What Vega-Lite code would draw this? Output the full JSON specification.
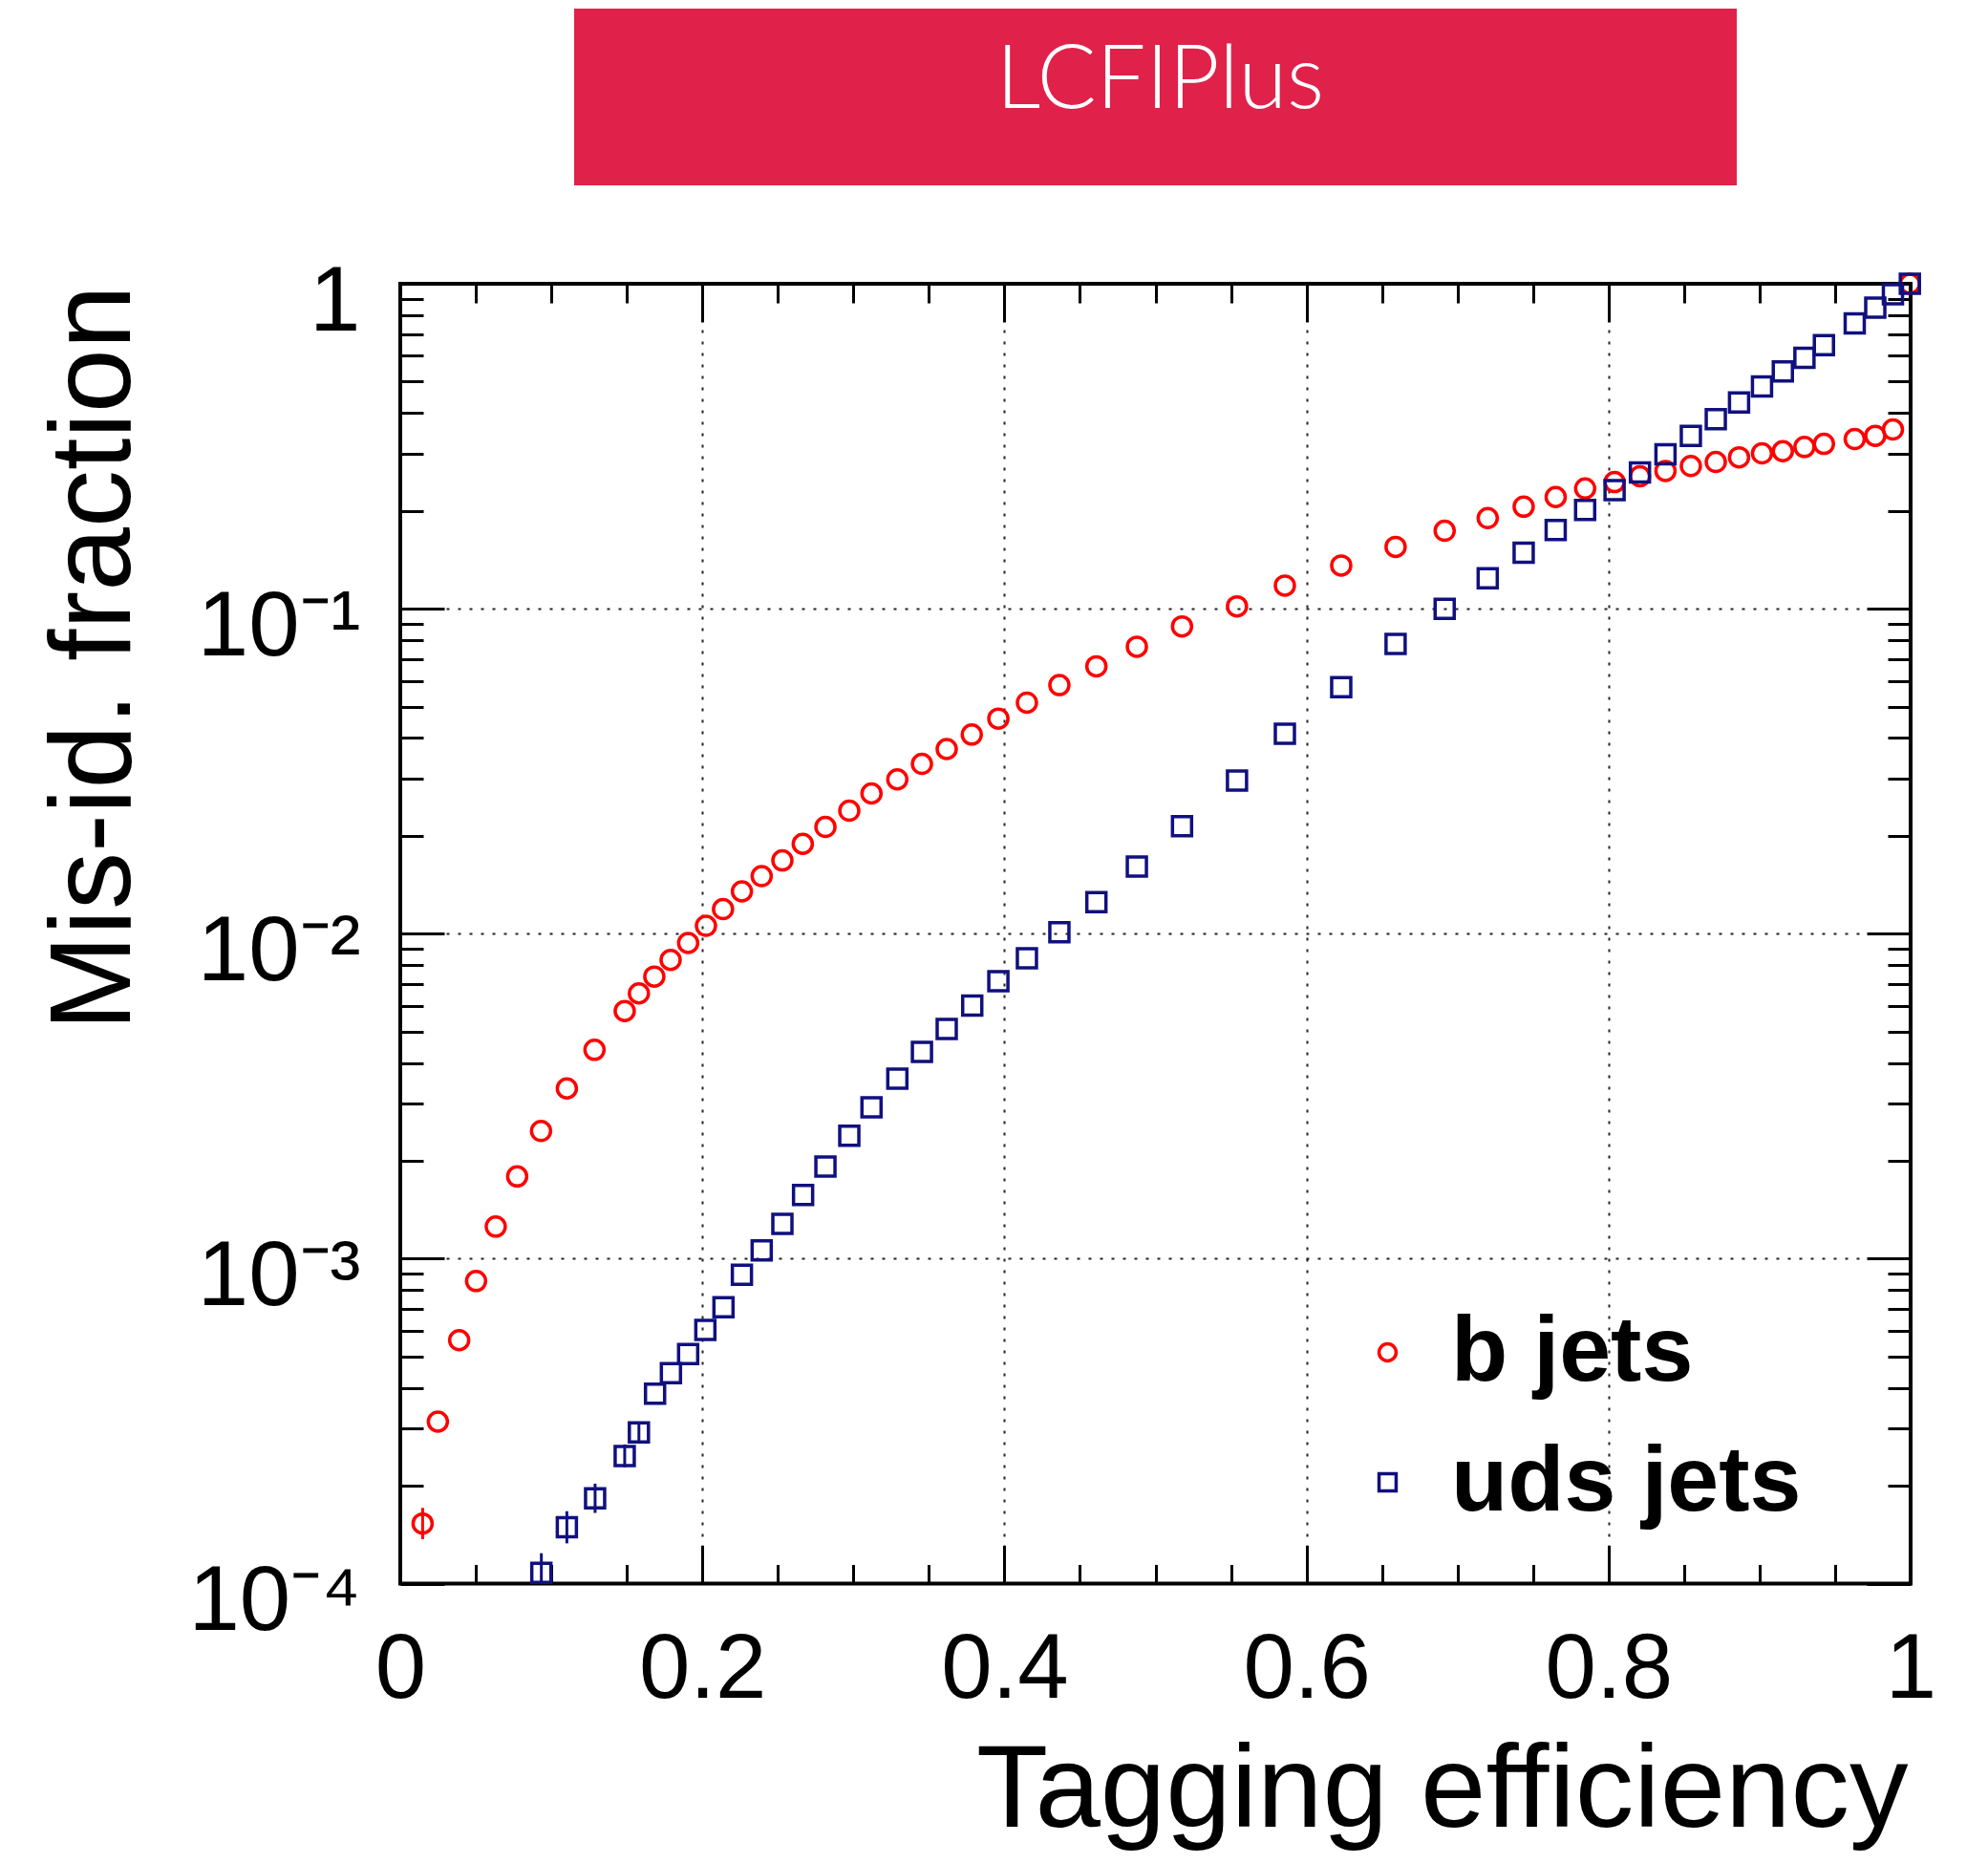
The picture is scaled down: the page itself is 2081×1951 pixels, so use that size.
{
  "$schema": "https://vega.github.io/schema/vega-lite/v6.json",
  "padding": {"left": 37, "top": 9, "right": 5, "bottom": 5},
  "background": "white",
  "config": {
    "view": {"stroke": "black", "strokeWidth": 4},
    "axis": {"domain": false},
    "font": "Liberation Sans"
  },
  "spacing": 103,
  "bounds": "flush",
  "center": true,
  "vconcat": [
    {"width": 1217, "height": 185, "view": {"stroke": null, "fill": "#E02149"},
     "data": {"values": [{"label": "LCFIPlus"}]},
     "mark": {"type": "text", "font": "Lato", "fontWeight": 300, "fontSize": 92, "color": "white", "fill": "white", "baseline": "alphabetic", "dy": 11.5, "dx": 5},
     "encoding": {"text": {"field": "label"}}},
    {
      "width": 1581,
      "height": 1360.5,
      "data": {"values": [
        {"series": "b jets", "eff": 0.0148, "misid": 0.000153, "lo": 0.000137, "hi": 0.000171},
        {"series": "b jets", "eff": 0.0249, "misid": 0.000315},
        {"series": "b jets", "eff": 0.039, "misid": 0.000561},
        {"series": "b jets", "eff": 0.0502, "misid": 0.000853},
        {"series": "b jets", "eff": 0.0632, "misid": 0.001255},
        {"series": "b jets", "eff": 0.0774, "misid": 0.00179},
        {"series": "b jets", "eff": 0.0932, "misid": 0.00247},
        {"series": "b jets", "eff": 0.1103, "misid": 0.00334},
        {"series": "b jets", "eff": 0.1286, "misid": 0.00439},
        {"series": "b jets", "eff": 0.1486, "misid": 0.00578},
        {"series": "b jets", "eff": 0.158, "misid": 0.00655},
        {"series": "b jets", "eff": 0.1682, "misid": 0.00738},
        {"series": "b jets", "eff": 0.179, "misid": 0.0083},
        {"series": "b jets", "eff": 0.1906, "misid": 0.00936},
        {"series": "b jets", "eff": 0.2024, "misid": 0.01057},
        {"series": "b jets", "eff": 0.2137, "misid": 0.0119},
        {"series": "b jets", "eff": 0.2262, "misid": 0.01349},
        {"series": "b jets", "eff": 0.2393, "misid": 0.01503},
        {"series": "b jets", "eff": 0.253, "misid": 0.0168},
        {"series": "b jets", "eff": 0.2665, "misid": 0.0189},
        {"series": "b jets", "eff": 0.2815, "misid": 0.0213},
        {"series": "b jets", "eff": 0.2973, "misid": 0.0239},
        {"series": "b jets", "eff": 0.312, "misid": 0.027},
        {"series": "b jets", "eff": 0.3291, "misid": 0.02985},
        {"series": "b jets", "eff": 0.3454, "misid": 0.0333},
        {"series": "b jets", "eff": 0.3618, "misid": 0.037},
        {"series": "b jets", "eff": 0.3784, "misid": 0.041},
        {"series": "b jets", "eff": 0.396, "misid": 0.0459},
        {"series": "b jets", "eff": 0.4149, "misid": 0.0514},
        {"series": "b jets", "eff": 0.4364, "misid": 0.0582},
        {"series": "b jets", "eff": 0.4609, "misid": 0.0665},
        {"series": "b jets", "eff": 0.4877, "misid": 0.0764},
        {"series": "b jets", "eff": 0.5176, "misid": 0.0882},
        {"series": "b jets", "eff": 0.554, "misid": 0.1017},
        {"series": "b jets", "eff": 0.5857, "misid": 0.1178},
        {"series": "b jets", "eff": 0.623, "misid": 0.1358},
        {"series": "b jets", "eff": 0.659, "misid": 0.155},
        {"series": "b jets", "eff": 0.6915, "misid": 0.1737},
        {"series": "b jets", "eff": 0.72, "misid": 0.19},
        {"series": "b jets", "eff": 0.7438, "misid": 0.206},
        {"series": "b jets", "eff": 0.765, "misid": 0.2206},
        {"series": "b jets", "eff": 0.7845, "misid": 0.2344},
        {"series": "b jets", "eff": 0.804, "misid": 0.2453},
        {"series": "b jets", "eff": 0.8208, "misid": 0.2556},
        {"series": "b jets", "eff": 0.8377, "misid": 0.2655},
        {"series": "b jets", "eff": 0.8545, "misid": 0.2748},
        {"series": "b jets", "eff": 0.871, "misid": 0.2828},
        {"series": "b jets", "eff": 0.8864, "misid": 0.2924},
        {"series": "b jets", "eff": 0.9016, "misid": 0.3006},
        {"series": "b jets", "eff": 0.9154, "misid": 0.3053},
        {"series": "b jets", "eff": 0.9297, "misid": 0.3145},
        {"series": "b jets", "eff": 0.9426, "misid": 0.3215},
        {"series": "b jets", "eff": 0.963, "misid": 0.3327},
        {"series": "b jets", "eff": 0.9766, "misid": 0.3404},
        {"series": "b jets", "eff": 0.9883, "misid": 0.356},
        {"series": "b jets", "eff": 0.9995, "misid": 1.0},
        {"series": "uds jets", "eff": 0.0934, "misid": 0.000108, "lo": 0.0001, "hi": 0.000124},
        {"series": "uds jets", "eff": 0.1103, "misid": 0.000149, "lo": 0.000133, "hi": 0.000167},
        {"series": "uds jets", "eff": 0.129, "misid": 0.000183, "lo": 0.000165, "hi": 0.000203},
        {"series": "uds jets", "eff": 0.1486, "misid": 0.000247, "lo": 0.000228, "hi": 0.000268},
        {"series": "uds jets", "eff": 0.158, "misid": 0.000292, "lo": 0.000271, "hi": 0.000314},
        {"series": "uds jets", "eff": 0.1687, "misid": 0.000384},
        {"series": "uds jets", "eff": 0.1792, "misid": 0.000444},
        {"series": "uds jets", "eff": 0.1906, "misid": 0.000509},
        {"series": "uds jets", "eff": 0.202, "misid": 0.000603},
        {"series": "uds jets", "eff": 0.214, "misid": 0.000709},
        {"series": "uds jets", "eff": 0.2262, "misid": 0.000892},
        {"series": "uds jets", "eff": 0.2393, "misid": 0.00106},
        {"series": "uds jets", "eff": 0.253, "misid": 0.00128},
        {"series": "uds jets", "eff": 0.2667, "misid": 0.00157},
        {"series": "uds jets", "eff": 0.2815, "misid": 0.00192},
        {"series": "uds jets", "eff": 0.2973, "misid": 0.00239},
        {"series": "uds jets", "eff": 0.312, "misid": 0.00292},
        {"series": "uds jets", "eff": 0.3291, "misid": 0.00358},
        {"series": "uds jets", "eff": 0.3454, "misid": 0.00433},
        {"series": "uds jets", "eff": 0.3618, "misid": 0.00509},
        {"series": "uds jets", "eff": 0.3787, "misid": 0.00601},
        {"series": "uds jets", "eff": 0.396, "misid": 0.00714},
        {"series": "uds jets", "eff": 0.4149, "misid": 0.0084},
        {"series": "uds jets", "eff": 0.4364, "misid": 0.0101},
        {"series": "uds jets", "eff": 0.4609, "misid": 0.0125},
        {"series": "uds jets", "eff": 0.4877, "misid": 0.0161},
        {"series": "uds jets", "eff": 0.5176, "misid": 0.0214},
        {"series": "uds jets", "eff": 0.554, "misid": 0.0296},
        {"series": "uds jets", "eff": 0.5857, "misid": 0.0412},
        {"series": "uds jets", "eff": 0.623, "misid": 0.0574},
        {"series": "uds jets", "eff": 0.659, "misid": 0.0779},
        {"series": "uds jets", "eff": 0.6915, "misid": 0.0999},
        {"series": "uds jets", "eff": 0.72, "misid": 0.124},
        {"series": "uds jets", "eff": 0.7438, "misid": 0.1486},
        {"series": "uds jets", "eff": 0.765, "misid": 0.1748},
        {"series": "uds jets", "eff": 0.7845, "misid": 0.2015},
        {"series": "uds jets", "eff": 0.804, "misid": 0.2318},
        {"series": "uds jets", "eff": 0.8208, "misid": 0.2624},
        {"series": "uds jets", "eff": 0.8377, "misid": 0.2985},
        {"series": "uds jets", "eff": 0.8545, "misid": 0.34},
        {"series": "uds jets", "eff": 0.871, "misid": 0.3828},
        {"series": "uds jets", "eff": 0.8864, "misid": 0.431},
        {"series": "uds jets", "eff": 0.9016, "misid": 0.483},
        {"series": "uds jets", "eff": 0.9154, "misid": 0.537},
        {"series": "uds jets", "eff": 0.9297, "misid": 0.592},
        {"series": "uds jets", "eff": 0.9426, "misid": 0.647},
        {"series": "uds jets", "eff": 0.963, "misid": 0.755},
        {"series": "uds jets", "eff": 0.9766, "misid": 0.845},
        {"series": "uds jets", "eff": 0.9883, "misid": 0.929},
        {"series": "uds jets", "eff": 0.9995, "misid": 1.0}
      ]},
      "resolve": {"axis": {"x": "independent", "y": "independent"}},
      "layer": [
        {
          "transform": [{"filter": "isValid(datum.lo) && datum.series == 'b jets'"}],
          "mark": {"type": "rule", "strokeWidth": 3, "color": "#ff0000"},
          "encoding": {
            "x": {"field": "eff", "type": "quantitative",
                  "scale": {"domain": [0, 1], "nice": false, "zero": false},
                  "axis": {"orient": "top", "title": null, "labels": false, "grid": false,
                           "values": [0,0.05,0.1,0.15,0.2,0.25,0.3,0.35,0.4,0.45,0.5,0.55,0.6,0.65,0.7,0.75,0.8,0.85,0.9,0.95,1],
                           "tickColor": "black", "tickWidth": 3,
                           "tickSize": {"condition": {"test": "datum.value == 0 || datum.value == 0.2 || datum.value == 0.4 || datum.value == 0.6 || datum.value == 0.8 || datum.value == 1", "value": -40}, "value": -20}}},
            "y": {"field": "lo", "type": "quantitative",
                  "scale": {"type": "log", "domain": [0.0001, 1], "nice": false},
                  "axis": {"orient": "right", "title": null, "labels": false, "grid": false,
                           "values": [0.0001,0.0002,0.0003,0.0004,0.0005,0.0006,0.0007,0.0008,0.0009,0.001,0.002,0.003,0.004,0.005,0.006,0.007,0.008,0.009,0.01,0.02,0.03,0.04,0.05,0.06,0.07,0.08,0.09,0.1,0.2,0.3,0.4,0.5,0.6,0.7,0.8,0.9,1],
                           "tickColor": "black", "tickWidth": 3,
                           "tickSize": {"condition": {"test": "datum.value == 1 || datum.value == 0.1 || datum.value == 0.01 || datum.value == 0.001 || datum.value == 0.0001", "value": -46}, "value": -24}}},
            "y2": {"field": "hi"}
          }
        },
        {
          "transform": [{"filter": "isValid(datum.lo) && datum.series == 'uds jets'"}],
          "mark": {"type": "rule", "strokeWidth": 3, "color": "#10107f"},
          "encoding": {
            "x": {"field": "eff", "type": "quantitative", "axis": null},
            "y": {"field": "lo", "type": "quantitative", "axis": null},
            "y2": {"field": "hi"}
          }
        },
        {
          "mark": {"type": "point", "filled": false, "strokeWidth": 3.5, "size": 400, "opacity": 1},
          "encoding": {
            "x": {"field": "eff", "type": "quantitative",
                  "scale": {"domain": [0, 1], "nice": false, "zero": false},
                  "axis": {"orient": "bottom",
                           "values": [0,0.05,0.1,0.15,0.2,0.25,0.3,0.35,0.4,0.45,0.5,0.55,0.6,0.65,0.7,0.75,0.8,0.85,0.9,0.95,1],
                           "labelExpr": "(datum.value == 0 || datum.value == 0.2 || datum.value == 0.4 || datum.value == 0.6 || datum.value == 0.8 || datum.value == 1) ? '' + datum.value : ''",
                           "labelFontSize": 96, "labelColor": "black", "labelFont": "Liberation Sans", "labelLimit": 0,
                           "labelBaseline": "alphabetic", "labelPadding": 158.5, "labelFlush": false, "labelOverlap": false, "labelBound": false,
                           "tickColor": "black", "tickWidth": 3,
                           "tickSize": {"condition": {"test": "datum.value == 0 || datum.value == 0.2 || datum.value == 0.4 || datum.value == 0.6 || datum.value == 0.8 || datum.value == 1", "value": -40}, "value": -20},
                           "grid": true, "gridDash": [3, 9], "gridColor": "#222222", "gridWidth": 2,
                           "gridOpacity": {"condition": {"test": "datum.value == 0.2 || datum.value == 0.4 || datum.value == 0.6 || datum.value == 0.8", "value": 1}, "value": 0},
                           "title": "Tagging efficiency", "titleFontSize": 123, "titleFont": "Liberation Sans", "titleFontWeight": "normal", "titleColor": "black", "titleLimit": 0,
                           "titleX": 1578, "titleY": 253.5, "titleAlign": "right", "titleBaseline": "alphabetic"}},
            "y": {"field": "misid", "type": "quantitative",
                  "scale": {"type": "log", "domain": [0.0001, 1], "nice": false},
                  "axis": {"orient": "left",
                           "values": [0.0001,0.0002,0.0003,0.0004,0.0005,0.0006,0.0007,0.0008,0.0009,0.001,0.002,0.003,0.004,0.005,0.006,0.007,0.008,0.009,0.01,0.02,0.03,0.04,0.05,0.06,0.07,0.08,0.09,0.1,0.2,0.3,0.4,0.5,0.6,0.7,0.8,0.9,1],
                           "labelExpr": "datum.value == 1 ? '1' : datum.value == 0.1 ? '10\u207b\u00b9' : datum.value == 0.01 ? '10\u207b\u00b2' : datum.value == 0.001 ? '10\u207b\u00b3' : datum.value == 0.0001 ? '10\u207b\u2074' : ''",
                           "labelFontSize": 96, "labelColor": "black", "labelFont": "Liberation Sans", "labelLimit": 0,
                           "labelAlign": "right", "labelBaseline": "alphabetic", "labelOffset": 48, "labelPadding": 88, "labelOverlap": false, "labelBound": false, "labelFlush": false,
                           "tickColor": "black", "tickWidth": 3,
                           "tickSize": {"condition": {"test": "datum.value == 1 || datum.value == 0.1 || datum.value == 0.01 || datum.value == 0.001 || datum.value == 0.0001", "value": -46}, "value": -24},
                           "grid": true, "gridDash": [3, 9], "gridColor": "#222222", "gridWidth": 2,
                           "gridOpacity": {"condition": {"test": "datum.value == 0.1 || datum.value == 0.01 || datum.value == 0.001", "value": 1}, "value": 0},
                           "title": "Mis-id. fraction", "titleFontSize": 120, "titleFont": "Liberation Sans", "titleFontWeight": "normal", "titleColor": "black", "titleLimit": 0,
                           "titleAngle": 270, "titleX": -284, "titleY": 1, "titleAlign": "right", "titleBaseline": "alphabetic"}},
            "color": {"field": "series", "type": "nominal",
                      "scale": {"domain": ["b jets", "uds jets"], "range": ["#ff0000", "#10107f"]},
                      "legend": {"title": null, "orient": "none", "legendX": 985, "legendY": 1358, "padding": 0,
                                 "labelFontSize": 97, "labelFontWeight": "bold", "labelFont": "Liberation Sans", "labelColor": "black", "labelLimit": 0,
                                 "symbolSize": 320, "symbolStrokeWidth": 3.5, "rowPadding": 38, "labelOffset": 18}},
            "shape": {"field": "series", "type": "nominal",
                      "scale": {"domain": ["b jets", "uds jets"], "range": ["circle", "square"]}}
          }
        }
      ]
    }
  ]
}
